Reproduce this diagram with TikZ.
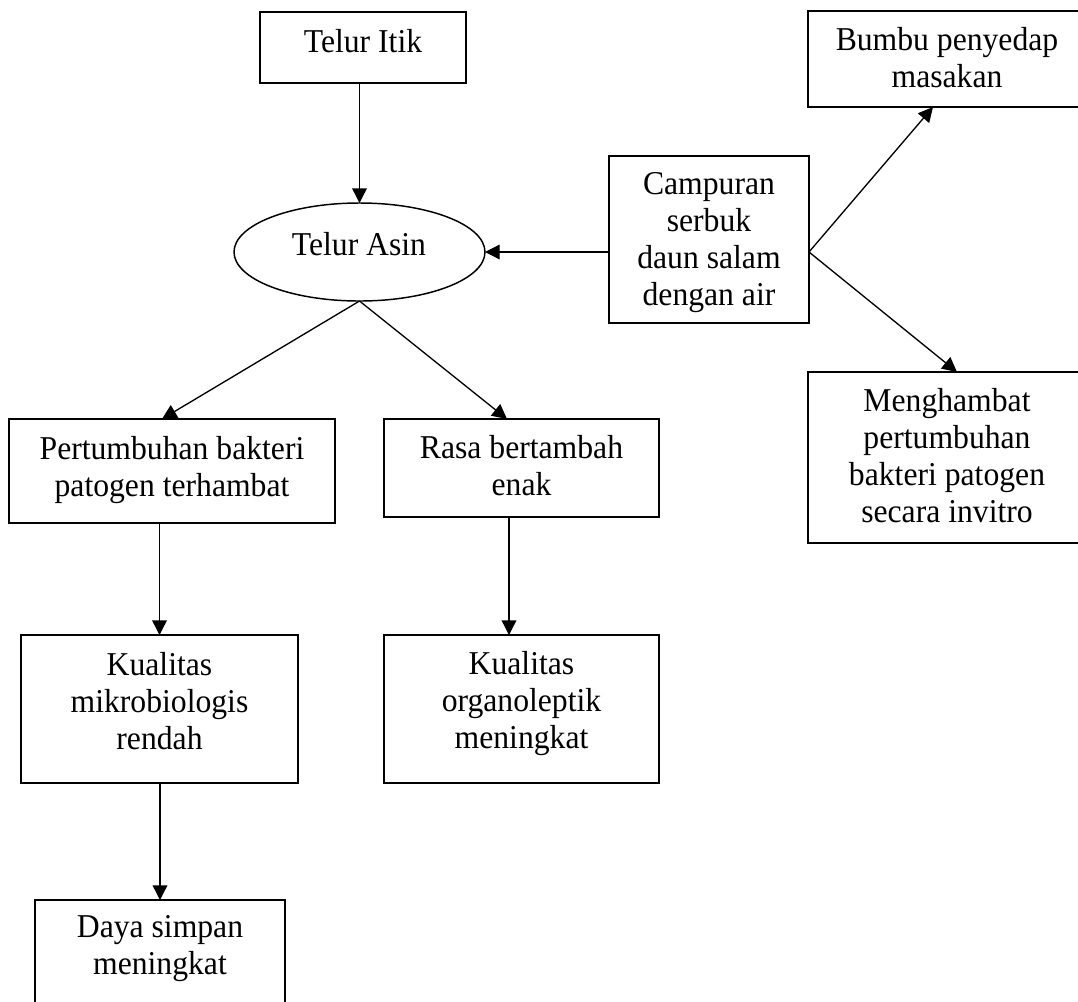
\documentclass[tikz,border=0pt]{standalone}
\usepackage{fontspec}
\setmainfont{Liberation Serif}[FakeStretch=0.95]
\usetikzlibrary{arrows.meta,shapes.geometric,calc}
\begin{document}
\begin{tikzpicture}[x=0.75pt,y=-0.75pt,
  box/.style={draw=black,line width=1.1pt,rectangle,inner sep=0pt,outer sep=0pt},
  oval/.style={draw=black,line width=1.1pt,ellipse,inner sep=0pt,outer sep=0pt},
  txt/.style={align=center,inner sep=0pt,font=\fontsize{25pt}{27.75pt}\selectfont},
  arr/.style={draw=black,line width=1pt,-{Triangle[length=11pt,width=11pt]}},
  ln/.style={draw=black,line width=1pt}]
\useasboundingbox (0,0) rectangle (1078,1001);
\clip (0,0) rectangle (1078,1001);
% boxes
\node[box,minimum width=154.5pt,minimum height=53.25pt] (itik) at (363,47.5) {};
\node[oval,minimum width=188.25pt,minimum height=73.5pt] (asin) at (359.5,252) {};
\node[box,minimum width=150pt,minimum height=125.25pt] (campuran) at (709,239.5) {};
\node[box,minimum width=208.5pt,minimum height=72pt] (bumbu) at (947,59) {};
\node[box,minimum width=208.5pt,minimum height=128.25pt] (hambat) at (947,457.5) {};
\node[box,minimum width=244.5pt,minimum height=78pt] (tumbuh) at (172,471) {};
\node[box,minimum width=206.25pt,minimum height=73.5pt] (rasa) at (521.5,468) {};
\node[box,minimum width=207.75pt,minimum height=111pt] (mikro) at (159.5,709) {};
\node[box,minimum width=206.25pt,minimum height=111pt] (organo) at (521.5,709) {};
\node[box,minimum width=187.5pt,minimum height=86.25pt] (daya) at (160,957.5) {};
% texts
\node[txt] (titik) at (363,41) {Telur Itik};
\node[txt] (tasin) at (359,244) {Telur Asin};
\node[txt] (tcamp) at (709,243) {Campuran\\serbuk\\daun salam\\dengan air};
\node[txt] (tbumbu) at (947,57.5) {Bumbu penyedap\\masakan};
\node[txt] (thambat) at (947,455.5) {Menghambat\\pertumbuhan\\bakteri patogen\\secara invitro};
\node[txt] (ttumbuh) at (172,470) {Pertumbuhan bakteri\\patogen terhambat};
\node[txt] (trasa) at (521.5,465.5) {Rasa bertambah\\enak};
\node[txt] (tmikro) at (159.5,701) {Kualitas\\mikrobiologis\\rendah};
\node[txt] (torgano) at (521.5,704) {Kualitas\\organoleptik\\meningkat};
\node[txt] (tdaya) at (160,949) {Daya simpan\\meningkat};
% connectors
\draw[arr] (asin.north |- itik.south) -- (asin.north);
\draw[arr] (campuran.west |- asin.east) -- (asin.east);
\coordinate (split) at (campuran.east |- asin.east);
\draw[arr] (split) -- ($(bumbu.south)+(-14,0)$);
\draw[arr] (split) -- ($(hambat.north)+(10,0)$);
\draw[arr] (asin.south) -- ($(tumbuh.north)+(-10,0)$);
\draw[arr] (asin.south) -- ($(rasa.north)+(-14.5,0)$);
\draw[arr] (mikro.north |- tumbuh.south) -- (mikro.north);
\draw[arr] ($(rasa.south)+(-12.5,0)$) -- ($(organo.north)+(-12.5,0)$);
\draw[arr] (daya.north |- mikro.south) -- (daya.north);
\end{tikzpicture}
\end{document}
